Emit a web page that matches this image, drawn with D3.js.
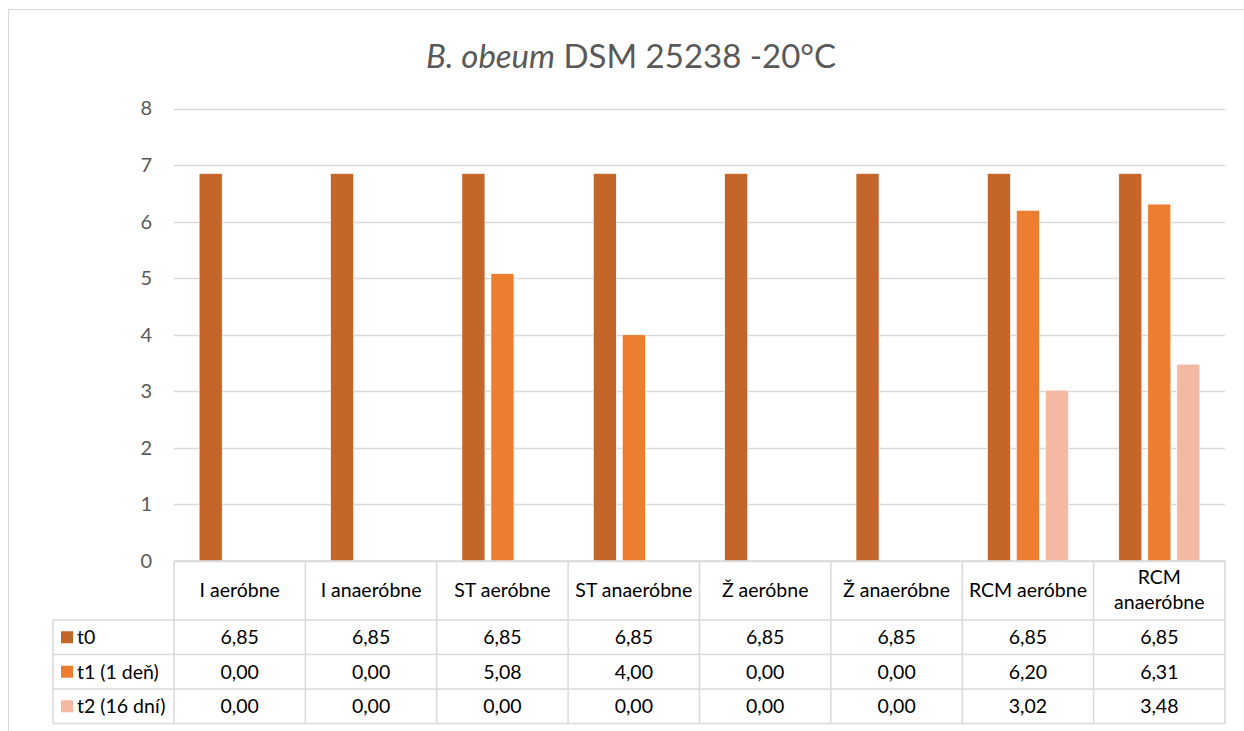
<!DOCTYPE html>
<html>
<head>
<meta charset="utf-8">
<script src="https://cdn.jsdelivr.net/npm/d3@7"></script>
<style>
  body { margin: 0; background: #fff; }
  text { font-family: Lato, "Open Sans", sans-serif; }
</style>
</head>
<body>
<script>
var width = 1244, height = 731;

// data
var categories = ["I aeróbne", "I anaeróbne", "ST aeróbne", "ST anaeróbne", "Ž aeróbne", "Ž anaeróbne", "RCM aeróbne", "RCM anaeróbne"];
var seriesNames = ["t0", "t1 (1 deň)", "t2 (16 dní)"];
var t0 = [6.85, 6.85, 6.85, 6.85, 6.85, 6.85, 6.85, 6.85];
var t1 = [0, 0, 5.08, 4.00, 0, 0, 6.20, 6.31];
var t2 = [0, 0, 0, 0, 0, 0, 3.02, 3.48];
var yTicks = [0, 1, 2, 3, 4, 5, 6, 7, 8];
var colors = ["#c4652a", "#ed7d31", "#f5b9a3"];

var series = [t0, t1, t2];

var svg = d3.select("body")
    .append("svg")
    .attr("width", width)
    .attr("height", height);

// chart frame
svg.append("rect")
    .attr("x", 8.5).attr("y", 9.5)
    .attr("width", 1250).attr("height", 740)
    .attr("fill", "#fff")
    .attr("stroke", "#d9d9d9");

// title
var title = svg.append("text")
    .attr("x", 631).attr("y", 68)
    .attr("text-anchor", "middle")
    .attr("fill", "#595959")
    .style("font-size", "33px");
title.append("tspan").style("font-style", "italic").text("B. obeum");
title.append("tspan").text(" DSM 25238 -20°C");

var plotLeft = 174, plotRight = 1225;

var x0 = d3.scaleBand()
    .domain(categories)
    .range([plotLeft, plotRight])
    .paddingInner(0.383)
    .paddingOuter(0.1915);

var x1 = d3.scaleBand()
    .domain(seriesNames)
    .range([0, x0.bandwidth()])
    .paddingInner(0.207);

var y = d3.scaleLinear()
    .domain([0, 8])
    .range([561, 108.5]);

// gridlines
svg.append("g")
  .selectAll("line")
  .data(yTicks)
  .enter().append("line")
    .attr("x1", plotLeft)
    .attr("x2", plotRight)
    .attr("y1", function(d) { return Math.round(y(d)) + 0.5; })
    .attr("y2", function(d) { return Math.round(y(d)) + 0.5; })
    .attr("stroke", "#d9d9d9")
    .attr("stroke-width", 1.3);

// y axis labels
var yAxis = svg.append("g")
    .attr("transform", "translate(" + (plotLeft - 12) + ",0)")
    .call(d3.axisLeft(y).tickValues(yTicks).tickSize(0).tickPadding(10));
yAxis.select(".domain").remove();
yAxis.selectAll("text")
    .attr("fill", "#595959")
    .style("font-size", "20px")
    .style("font-family", "Lato, 'Open Sans', sans-serif");

// bars
var groups = svg.append("g")
  .selectAll("g")
  .data(categories)
  .enter().append("g")
    .attr("transform", function(d) { return "translate(" + x0(d) + ",0)"; });

groups.selectAll("rect")
    .data(function(d, i) {
      return seriesNames.map(function(s, j) { return { s: s, v: series[j][i], j: j }; });
    })
  .enter().append("rect")
    .filter(function(d) { return d.v > 0; })
    .attr("x", function(d) { return x1(d.s); })
    .attr("y", function(d) { return y(d.v); })
    .attr("width", x1.bandwidth())
    .attr("height", function(d) { return y(0) - y(d.v); })
    .attr("fill", function(d) { return colors[d.j]; })
    .attr("stroke", "#fff")
    .attr("stroke-width", 0.6);

// data table
var headerTop = 561, headerBottom = 620, rowH = 34.5;
var legendLeft = 53;
var table = svg.append("g");
var lineColor = "#d9d9d9";
var rowsBottom = headerBottom + rowH * seriesNames.length;
var fs = "19.5px";

// horizontal lines
table.append("line")
    .attr("x1", plotLeft).attr("x2", plotRight)
    .attr("y1", headerTop).attr("y2", headerTop)
    .attr("stroke", lineColor).attr("stroke-width", 1.5);
table.selectAll("line.h")
    .data(d3.range(seriesNames.length + 1))
  .enter().append("line")
    .attr("class", "h")
    .attr("x1", legendLeft).attr("x2", plotRight)
    .attr("y1", function(i) { return headerBottom + i * rowH; })
    .attr("y2", function(i) { return headerBottom + i * rowH; })
    .attr("stroke", lineColor).attr("stroke-width", 1.5);

// vertical lines
var colEdges = categories.map(function(c) { return x0(c) - x0.step() * x0.paddingOuter(); });
colEdges.push(plotRight);
table.selectAll("line.v")
    .data(colEdges)
  .enter().append("line")
    .attr("class", "v")
    .attr("x1", function(d) { return d; }).attr("x2", function(d) { return d; })
    .attr("y1", headerTop).attr("y2", rowsBottom)
    .attr("stroke", lineColor).attr("stroke-width", 1.5);
table.append("line")
    .attr("x1", legendLeft).attr("x2", legendLeft)
    .attr("y1", headerBottom).attr("y2", rowsBottom)
    .attr("stroke", lineColor).attr("stroke-width", 1.5);

// header labels
categories.forEach(function(c) {
  var cx = x0(c) + x0.bandwidth() / 2;
  var t = table.append("text")
      .attr("x", cx)
      .attr("text-anchor", "middle")
      .attr("fill", "#000")
      .style("font-size", fs);
  if (c === "RCM anaeróbne") {
    t.append("tspan").attr("x", cx).attr("y", 584).text("RCM");
    t.append("tspan").attr("x", cx).attr("y", 609).text("anaeróbne");
  } else {
    t.attr("y", 597).text(c);
  }
});

// rows
seriesNames.forEach(function(s, j) {
  var cy = headerBottom + j * rowH + rowH / 2;
  table.append("rect")
      .attr("x", 61).attr("y", cy - 6)
      .attr("width", 12).attr("height", 12)
      .attr("fill", colors[j]);
  table.append("text")
      .attr("x", 77).attr("y", cy + 7)
      .attr("fill", "#000")
      .style("font-size", fs)
      .text(s);
  categories.forEach(function(c, i) {
    table.append("text")
        .attr("x", x0(c) + x0.bandwidth() / 2)
        .attr("y", cy + 7)
        .attr("text-anchor", "middle")
        .attr("fill", "#000")
        .style("font-size", fs)
        .text(series[j][i].toFixed(2).replace(".", ","));
  });
});
</script>
</body>
</html>
